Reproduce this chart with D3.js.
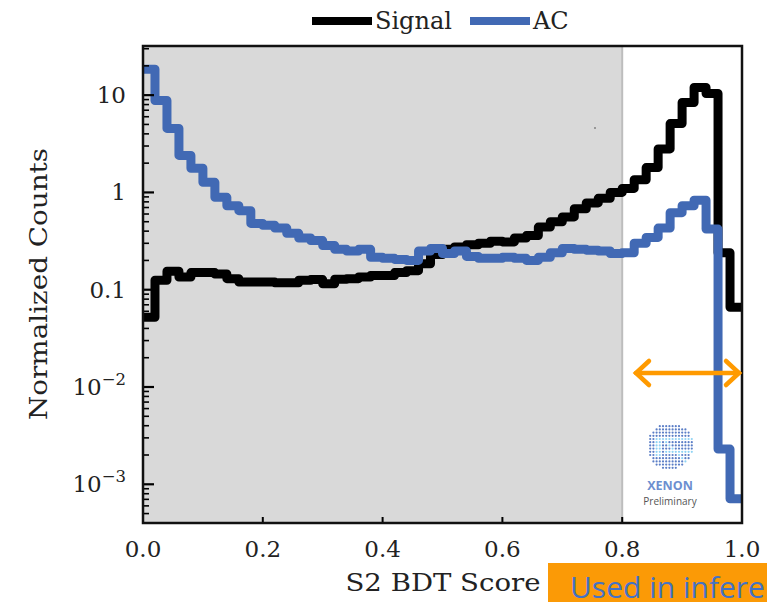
<!DOCTYPE html>
<html>
<head>
<meta charset="utf-8">
<script src="https://cdn.jsdelivr.net/npm/d3@7"></script>
<style>
body { margin:0; background:#fff; }
svg { display:block; }
</style>
</head>
<body>
<div id="chart"></div>
<script>
// 50 bins of width 0.02 over S2 BDT score [0,1]
var binEdges = d3.range(0, 51).map(function(i){ return i / 50 })
var signalCounts = [0.052, 0.125, 0.155, 0.135, 0.15, 0.15, 0.145, 0.13, 0.12, 0.12,
    0.12, 0.118, 0.118, 0.125, 0.127, 0.115, 0.128, 0.13, 0.135, 0.14,
    0.14, 0.15, 0.157, 0.185, 0.23, 0.26, 0.275, 0.29, 0.30, 0.315,
    0.31, 0.34, 0.36, 0.44, 0.50, 0.56, 0.68, 0.78, 0.87, 1.0,
    1.1, 1.35, 1.8, 2.8, 5.1, 8.4, 12, 10.4, 0.24, 0.066]
var acCounts = [18.5, 8.8, 4.55, 2.4, 1.77, 1.27, 0.89, 0.73, 0.65, 0.48,
    0.46, 0.43, 0.38, 0.34, 0.32, 0.285, 0.26, 0.25, 0.26, 0.215,
    0.21, 0.205, 0.2, 0.25, 0.265, 0.235, 0.25, 0.22, 0.21, 0.21,
    0.215, 0.21, 0.2, 0.215, 0.24, 0.265, 0.26, 0.255, 0.25, 0.235,
    0.24, 0.3, 0.345, 0.43, 0.62, 0.73, 0.83, 0.42, 0.0023, 0.00071]
var xTicks = [0, 0.2, 0.4, 0.6, 0.8, 1.0]
var xTickLabels = ["0.0", "0.2", "0.4", "0.6", "0.8", "1.0"]
var seriesNames = ["Signal", "AC"]
var seriesColors = ["#000000", "#4169b4"]
var shadeUpTo = 0.8

var W = 767, H = 602
var pL = 143, pR = 742, pT = 46, pB = 523

var svg = d3.select("#chart").append("svg")
    .attr("width", W).attr("height", H)

var X = d3.scaleLinear().domain([0, 1]).range([pL, pR])
var Y = d3.scaleLog().domain([4e-4, 32]).range([pB, pT])

// shaded region
svg.append("rect")
    .attr("x", X(0)).attr("y", pT)
    .attr("width", X(shadeUpTo) - X(0)).attr("height", pB - pT)
    .attr("fill", "#d9d9d9")
svg.append("line")
    .attr("x1", X(shadeUpTo)).attr("x2", X(shadeUpTo))
    .attr("y1", pT).attr("y2", pB)
    .attr("stroke", "#bdbdbd").attr("stroke-width", 2)

// stray speck
svg.append("circle").attr("cx", 595).attr("cy", 128).attr("r", 0.8).attr("fill", "#444")

var clip = svg.append("clipPath").attr("id", "clip")
clip.append("rect").attr("x", pL).attr("y", pT).attr("width", pR - pL).attr("height", pB - pT)

function stepData(counts) {
    var pts = counts.map(function(c, i){ return [binEdges[i], c] })
    pts.push([binEdges[50], counts[counts.length - 1]])
    return pts
}
var stepLine = d3.line()
    .x(function(d){ return X(d[0]) })
    .y(function(d){ return Y(d[1]) })
    .curve(d3.curveStepAfter)

var plot = svg.append("g").attr("clip-path", "url(#clip)")
plot.append("path")
    .datum(stepData(signalCounts))
    .attr("fill", "none").attr("stroke", seriesColors[0])
    .attr("stroke-width", 9).attr("stroke-linejoin", "round")
    .attr("d", stepLine)
plot.append("path")
    .datum(stepData(acCounts))
    .attr("fill", "none").attr("stroke", seriesColors[1])
    .attr("stroke-width", 9).attr("stroke-linejoin", "round")
    .attr("d", stepLine)

// ticks (inward)
var yt = Y.ticks()
var tg = svg.append("g")
yt.forEach(function(t){
    var major = Math.abs(Math.log10(t) - Math.round(Math.log10(t))) < 1e-9
    tg.append("line")
        .attr("x1", pL).attr("x2", pL + (major ? 11 : 6))
        .attr("y1", Y(t)).attr("y2", Y(t))
        .attr("stroke", "#000").attr("stroke-width", major ? 2.2 : 1.6)
})
xTicks.forEach(function(t){
    tg.append("line")
        .attr("x1", X(t)).attr("x2", X(t))
        .attr("y1", pB).attr("y2", pB - 6)
        .attr("stroke", "#000").attr("stroke-width", 2)
})

// frame
svg.append("rect")
    .attr("x", pL).attr("y", pT)
    .attr("width", pR - pL).attr("height", pB - pT)
    .attr("fill", "none").attr("stroke", "#111").attr("stroke-width", 2.5)

// tick labels
var font = "'DejaVu Serif', serif"
xTicks.forEach(function(t, i){
    svg.append("text")
        .attr("x", X(t)).attr("y", 557)
        .attr("text-anchor", "middle")
        .attr("font-family", font).attr("font-size", 23).attr("fill", "#222")
        .text(xTickLabels[i])
})
var yLabels = [[10, "10", null], [1, "1", null], [0.1, "0.1", null], [0.01, "10", "\u22122"], [0.001, "10", "\u22123"]]
yLabels.forEach(function(l){
    var tx = svg.append("text")
        .attr("x", 126).attr("y", Y(l[0]) + 8)
        .attr("text-anchor", "end")
        .attr("font-family", font).attr("font-size", 23).attr("fill", "#222")
    tx.append("tspan").text(l[1])
    if (l[2]) {
        tx.append("tspan").attr("dy", -10).attr("font-size", 16.5).text(l[2])
    }
})

// axis titles
svg.append("text")
    .attr("transform", "translate(47,284) rotate(-90)")
    .attr("text-anchor", "middle")
    .attr("font-family", font).attr("font-size", 25).attr("fill", "#222")
    .attr("textLength", 272).attr("lengthAdjust", "spacingAndGlyphs")
    .text("Normalized Counts")
svg.append("text")
    .attr("x", 443).attr("y", 591)
    .attr("text-anchor", "middle")
    .attr("font-family", font).attr("font-size", 25).attr("fill", "#222")
    .attr("textLength", 195).attr("lengthAdjust", "spacingAndGlyphs")
    .text("S2 BDT Score")

// legend
var legX = [312, 470]
seriesNames.forEach(function(n, i){
    svg.append("line")
        .attr("x1", legX[i]).attr("x2", legX[i] + 60)
        .attr("y1", 21).attr("y2", 21)
        .attr("stroke", seriesColors[i]).attr("stroke-width", 8)
    svg.append("text")
        .attr("x", legX[i] + 63).attr("y", 29)
        .attr("font-family", font).attr("font-size", 24).attr("fill", "#222")
        .text(n)
})

// orange arrow
var ax1 = 636, ax2 = 739, ay = 373
var ag = svg.append("g").attr("stroke", "#ff9a00").attr("stroke-width", 4.5)
    .attr("stroke-linecap", "round").attr("fill", "none")
ag.append("line").attr("x1", ax1).attr("x2", ax2).attr("y1", ay).attr("y2", ay)
ag.append("path").attr("d", "M" + (ax1 + 13) + "," + (ay - 12) + "L" + ax1 + "," + ay + "L" + (ax1 + 13) + "," + (ay + 12))
ag.append("path").attr("d", "M" + (ax2 - 13) + "," + (ay - 12) + "L" + ax2 + "," + ay + "L" + (ax2 - 13) + "," + (ay + 12))

// XENON logo
var lx = 670, ly = 446, lr = 23
var logo = svg.append("g")
for (var gx = -lr; gx <= lr; gx += 3.2) {
    for (var gy = -lr; gy <= lr; gy += 3.2) {
        if (gx * gx + gy * gy <= lr * lr) {
            var light = (Math.abs(gy + 6) < 2 && gx > -12) || (Math.abs(gy - 6) < 2 && gx > -6) ||
                (Math.abs(gx + 12) < 2 && gy > -10 && gy < 10) || (Math.abs(gx - gy) < 2.5 && gx > -6)
            logo.append("circle")
                .attr("cx", lx + gx).attr("cy", ly + gy).attr("r", 1.1)
                .attr("fill", light ? "#8fd3f4" : "#5b7ec6")
        }
    }
}
svg.append("text")
    .attr("x", lx).attr("y", 490).attr("text-anchor", "middle")
    .attr("font-family", "'Open Sans', sans-serif").attr("font-weight", "bold")
    .attr("font-size", 12.5).attr("fill", "#6d8fd0")
    .text("XENON")
svg.append("text")
    .attr("x", lx).attr("y", 505).attr("text-anchor", "middle")
    .attr("font-family", "'Open Sans', sans-serif")
    .attr("font-size", 10).attr("fill", "#555")
    .text("Preliminary")

// orange label box
svg.append("rect")
    .attr("x", 548).attr("y", 563).attr("width", W - 548).attr("height", H - 563)
    .attr("fill", "#fb9a06")
svg.append("text")
    .attr("x", 570).attr("y", 598)
    .attr("font-family", "'Open Sans', sans-serif")
    .attr("font-size", 30).attr("fill", "#4472c4")
    .text("Used in inference")
</script>
</body>
</html>
